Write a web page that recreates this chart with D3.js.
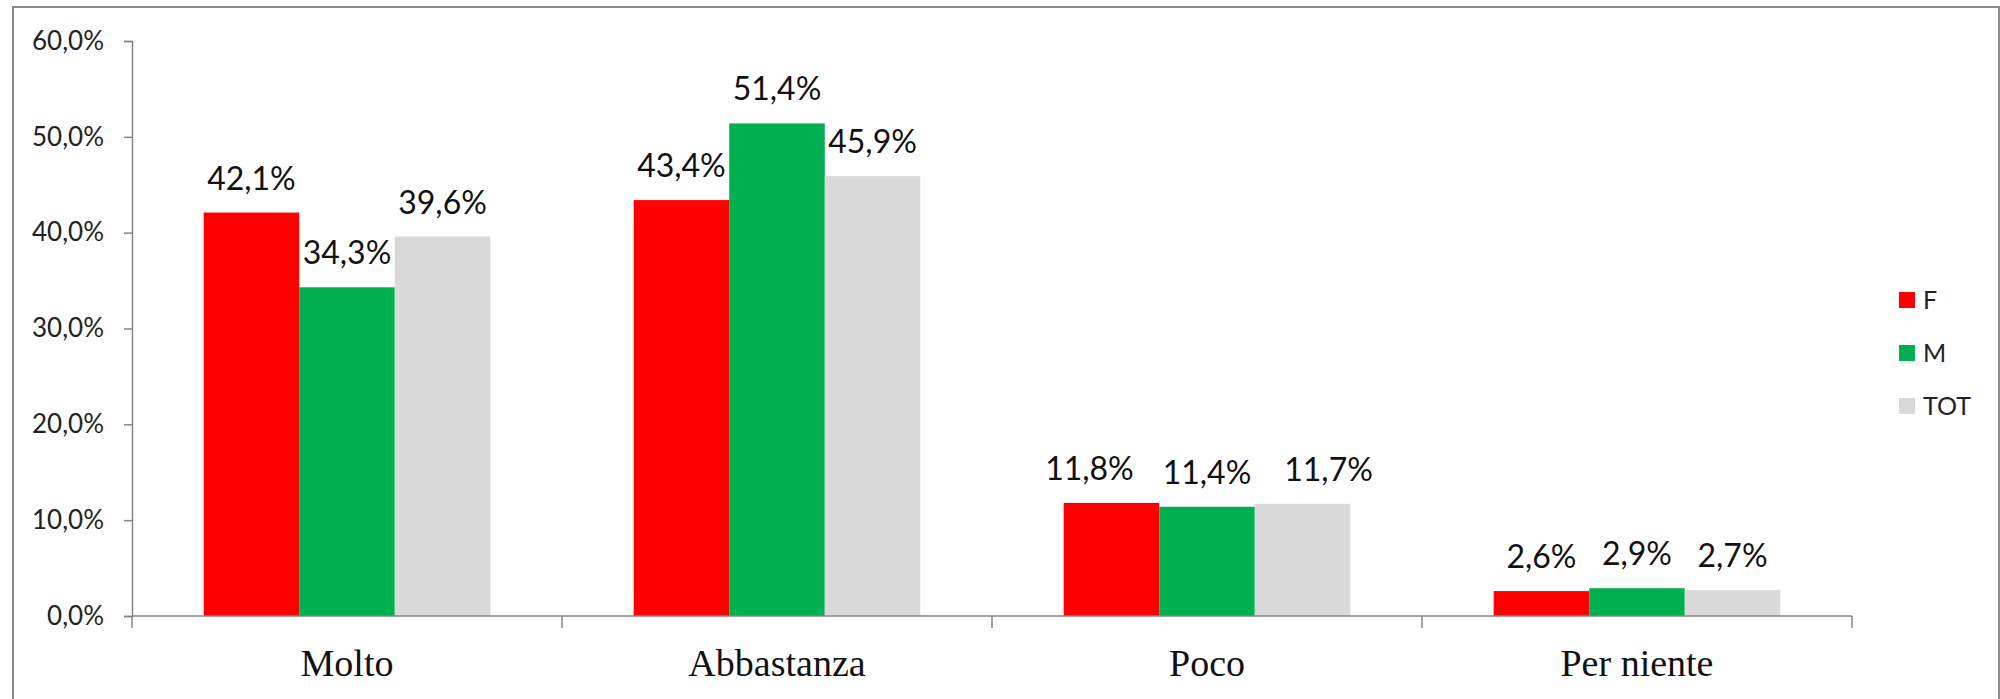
<!DOCTYPE html>
<html>
<head>
<meta charset="utf-8">
<script src="https://cdn.jsdelivr.net/npm/d3@7"></script>
<style>
  body { margin:0; background:#fff; }
  svg { display:block; }
</style>
</head>
<body>
<div id="chart"></div>
<script>
'use strict';

// categories / series
var categories = ['Molto', 'Abbastanza', 'Poco', 'Per niente'];
var seriesNames = ['F', 'M', 'TOT'];
var valuesF = [42.1, 43.4, 11.8, 2.6];
var valuesM = [34.3, 51.4, 11.4, 2.9];
var valuesTOT = [39.6, 45.9, 11.7, 2.7];
var yTicks = [0, 10, 20, 30, 40, 50, 60];

(function () {
  var colors = { F: '#ff0000', M: '#00b050', TOT: '#d9d9d9' };
  var seriesValues = { F: valuesF, M: valuesM, TOT: valuesTOT };

  var W = 2000, H = 699;
  var plotLeft = 132, plotRight = 1852, plotTop = 41, plotBottom = 616;

  var fmt = function (v) { return v.toFixed(1).replace('.', ',') + '%'; };

  var svg = d3.select('#chart').append('svg')
    .attr('width', W).attr('height', H);

  // chart frame
  svg.append('rect')
    .attr('x', 13).attr('y', 7)
    .attr('width', 1986).attr('height', H + 10)
    .attr('fill', 'none')
    .attr('stroke', '#8c8c8c').attr('stroke-width', 2);

  var x0 = d3.scaleBand().domain(categories).range([plotLeft, plotRight]).paddingInner(0).paddingOuter(0);
  // gap width 150% -> group padding
  var x1 = d3.scaleBand().domain(seriesNames).range([0, x0.bandwidth()]).paddingInner(0).paddingOuter(0.75);
  var y = d3.scaleLinear().domain([0, 60]).range([plotBottom, plotTop]);

  // y axis
  var yAxis = svg.append('g').attr('transform', 'translate(' + plotLeft + ',0)')
    .call(d3.axisLeft(y).tickValues(yTicks).tickSize(8).tickPadding(20).tickFormat(fmt));
  yAxis.select('.domain').attr('stroke', '#868686').attr('stroke-width', 1.5);
  yAxis.selectAll('.tick line').attr('stroke', '#868686').attr('stroke-width', 1.5);
  yAxis.selectAll('text')
    .attr('font-family', 'Lato, sans-serif').attr('font-size', 26).attr('fill', '#222');

  // groups of bars
  var groups = svg.selectAll('g.grp').data(categories).enter().append('g')
    .attr('class', 'grp')
    .attr('transform', function (d) { return 'translate(' + x0(d) + ',0)'; });

  seriesNames.forEach(function (s) {
    groups.append('rect')
      .attr('x', x1(s))
      .attr('y', function (d, i) { return y(seriesValues[s][i]); })
      .attr('width', x1.bandwidth())
      .attr('height', function (d, i) { return plotBottom - y(seriesValues[s][i]); })
      .attr('fill', colors[s]);

    groups.append('text')
      .attr('class', 'lbl lbl-' + s)
      .attr('x', x1(s) + x1.bandwidth() / 2)
      .attr('y', function (d, i) { return y(seriesValues[s][i]) - 23; })
      .attr('text-anchor', 'middle')
      .attr('font-family', 'Lato, sans-serif').attr('font-size', 32).attr('fill', '#111')
      .text(function (d, i) { return fmt(seriesValues[s][i]); });
  });

  // spread labels apart when neighbours sit at nearly the same height and touch
  groups.each(function () {
    var g = d3.select(this);
    var lf = g.select('.lbl-F'), lm = g.select('.lbl-M'), lt = g.select('.lbl-TOT');
    var bf = lf.node().getBBox(), bm = lm.node().getBBox(), bt = lt.node().getBBox();
    var vOverlap = Math.abs(bf.y - bm.y) < bf.height && Math.abs(bt.y - bm.y) < bt.height;
    var gapL = bm.x - (bf.x + bf.width), gapR = bt.x - (bm.x + bm.width);
    if (vOverlap && bf.width > 80 && gapL < 14 && gapR < 14) {
      lf.attr('x', +lf.attr('x') - 22);
      lt.attr('x', +lt.attr('x') + 26);
    }
  });

  // x axis
  var xAxis = svg.append('g').attr('transform', 'translate(0,' + plotBottom + ')');
  xAxis.append('line').attr('x1', plotLeft).attr('x2', plotRight)
    .attr('stroke', '#868686').attr('stroke-width', 1.5);
  xAxis.selectAll('line.tk').data(d3.range(categories.length + 1)).enter().append('line')
    .attr('class', 'tk')
    .attr('x1', function (i) { return plotLeft + i * x0.step(); })
    .attr('x2', function (i) { return plotLeft + i * x0.step(); })
    .attr('y1', 0).attr('y2', 12)
    .attr('stroke', '#868686').attr('stroke-width', 1.5);
  xAxis.selectAll('text').data(categories).enter().append('text')
    .attr('x', function (d) { return x0(d) + x0.bandwidth() / 2; })
    .attr('y', 60)
    .attr('text-anchor', 'middle')
    .attr('font-family', '"Liberation Serif", serif').attr('font-size', 38).attr('fill', '#111')
    .text(function (d) { return d; });

  // legend
  var legend = svg.selectAll('g.leg').data(seriesNames).enter().append('g')
    .attr('class', 'leg')
    .attr('transform', function (d, i) { return 'translate(1899,' + (300 + i * 53) + ')'; });
  legend.append('rect').attr('x', 0).attr('y', -8).attr('width', 16).attr('height', 16)
    .attr('fill', function (d) { return colors[d]; });
  legend.append('text').attr('x', 24).attr('y', 9)
    .attr('font-family', 'Lato, sans-serif').attr('font-size', 25).attr('fill', '#222')
    .text(function (d) { return d; });
})();
</script>
</body>
</html>
